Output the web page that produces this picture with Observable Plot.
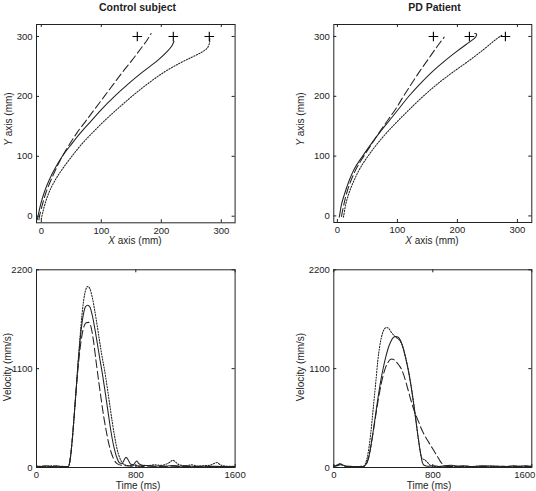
<!DOCTYPE html>
<html>
<head>
<meta charset="utf-8">
<script src="https://cdn.jsdelivr.net/npm/d3@7"></script>
<script src="https://cdn.jsdelivr.net/npm/@observablehq/plot@0.6"></script>
<style>
  body { margin: 0; background: #fff; }
  #fig { position: relative; width: 536px; height: 491px; overflow: hidden;
         font-family: "Liberation Sans", Arial, Helvetica, sans-serif; color: #1e1e1e; }
  .lbl { position: absolute; white-space: nowrap; font-size: 10px; transform: translate(-50%, -50%); }
  .lbl.v { transform: translate(-50%, -50%) rotate(-90deg); }
  .title { position: absolute; white-space: nowrap; font-size: 10.5px; font-weight: bold; transform: translate(-50%, -50%); }
</style>
</head>
<body>
<div id="fig"></div>
<script>
// ---- tick values ----
const posTicks = [0, 100, 200, 300];
const timeTicks = [0, 800, 1600];
const velTicks = [0, 1100, 2200];

// ---- target positions (mm) ----
const targetX = [160, 220, 280];
const targetY = [300, 300, 300];

// ---- hand paths, control subject: [x mm, y mm] ----
const ctrlPathNear = [[-4,-6],[-3,0],[2,20],[8,40],[16,60],[25,80],[35,100],[47,120],[60,140],[75,160],[90,180],[105,200],[120,220],[135,240],[151,260],[166,280],[177,295],[183,305]];
const ctrlPathMid = [[-7,-6],[-5.5,0],[-1,20],[5,40],[13,60],[23,80],[35,100],[50,120],[66,140],[84,160],[102,180],[122,200],[144,220],[168,240],[194,260],[210,275],[218,285],[221,292]];
const ctrlPathFar = [[0,-5],[1,0],[6,20],[13,40],[23,60],[36,80],[51,100],[67,120],[86,140],[106,160],[128,180],[151,200],[176,220],[204,240],[230,255],[250,265],[266,273],[276,280],[280,288],[281,296]];

// ---- hand paths, PD patient: [x mm, y mm] ----
const pdPathNear = [[7,-1],[7,0],[11,20],[16,40],[23,60],[32,80],[44,100],[57,120],[70,140],[84,160],[98,180],[110,200],[123,220],[136,240],[150,260],[164,280],[178,299]];
const pdPathMid = [[3,-2],[3.5,0],[7,20],[13,40],[20,60],[29,80],[42,100],[56,120],[71,140],[87,160],[103,180],[119,200],[137,220],[157,240],[180,260],[199,275],[215,287],[226,295],[231,300],[232,304],[229,305]];
const pdPathFar = [[10,-2],[10.5,0],[14,20],[20,40],[28,60],[38,80],[51,100],[66,120],[83,140],[102,160],[122,180],[143,200],[166,220],[192,240],[220,260],[246,280],[264,295],[274,302]];

// ---- tangential velocity, control subject: [time ms, mm/s] ----
const ctrlVelNear = [[0,15],[40,10],[80,18],[120,10],[160,15],[200,10],[240,12],[255,10],[265,40],[275,130],[290,340],[305,600],[320,870],[335,1110],[350,1310],[365,1460],[380,1560],[400,1610],[420,1615],[440,1560],[460,1400],[480,1180],[500,970],[520,770],[540,580],[560,420],[580,280],[600,175],[620,100],[640,55],[660,35],[690,25],[720,20],[760,15],[800,20],[850,12],[900,18],[1000,12],[1100,15],[1200,10],[1300,15],[1400,12],[1500,10],[1600,12]];
const ctrlVelMid = [[0,15],[40,12],[80,20],[120,10],[160,18],[200,12],[240,10],[255,10],[265,40],[275,130],[290,340],[305,600],[320,880],[335,1160],[350,1400],[365,1590],[380,1720],[395,1790],[413,1805],[430,1785],[450,1690],[470,1545],[490,1380],[510,1210],[530,1050],[550,870],[570,680],[590,490],[610,320],[630,190],[650,100],[670,50],[690,45],[705,80],[722,115],[740,80],[760,35],[780,30],[795,55],[808,72],[822,45],[850,25],[900,20],[950,15],[1000,20],[1050,15],[1100,22],[1150,15],[1200,18],[1300,12],[1400,15],[1500,10],[1600,12]];
const ctrlVelFar = [[0,12],[40,15],[80,10],[120,18],[160,12],[200,15],[240,10],[255,10],[265,40],[275,130],[290,340],[305,600],[320,880],[335,1170],[350,1440],[365,1680],[380,1860],[395,1970],[413,2015],[430,1990],[450,1890],[470,1740],[490,1570],[510,1390],[530,1220],[550,1070],[570,890],[590,700],[610,510],[630,340],[650,200],[670,110],[690,55],[710,30],[740,20],[780,25],[820,15],[860,25],[900,20],[950,30],[1000,25],[1040,35],[1070,55],[1100,80],[1120,60],[1150,30],[1200,20],[1250,30],[1300,15],[1350,20],[1400,25],[1430,45],[1455,55],[1480,30],[1530,15],[1600,12]];

// ---- tangential velocity, PD patient: [time ms, mm/s] ----
const pdVelNear = [[0,15],[30,20],[52,30],[75,20],[100,12],[150,10],[200,12],[240,12],[255,25],[270,60],[285,130],[300,240],[320,410],[340,590],[360,760],[380,910],[400,1030],[420,1120],[440,1175],[455,1200],[469,1208],[485,1200],[505,1175],[525,1140],[545,1100],[565,1030],[585,940],[605,840],[625,740],[645,650],[665,575],[685,510],[705,440],[725,380],[745,330],[765,285],[785,240],[805,195],[825,150],[845,105],[865,60],[885,30],[905,15],[950,10],[1000,15],[1100,12],[1200,10],[1300,15],[1400,12],[1500,10],[1600,12]];
const pdVelMid = [[0,15],[30,25],[52,40],[75,25],[100,15],[150,12],[200,10],[240,12],[255,25],[270,60],[285,130],[300,240],[320,420],[340,610],[360,800],[380,970],[400,1110],[420,1230],[440,1330],[460,1400],[480,1445],[500,1458],[520,1450],[540,1410],[560,1330],[580,1220],[600,1095],[620,940],[640,760],[660,560],[680,350],[700,170],[715,60],[730,25],[760,15],[800,20],[850,12],[900,18],[950,25],[1000,15],[1050,20],[1100,12],[1200,18],[1300,15],[1400,12],[1450,20],[1500,15],[1550,18],[1600,12]];
const pdVelFar = [[0,15],[30,30],[52,45],[75,25],[100,15],[150,10],[200,12],[240,15],[255,40],[270,110],[285,230],[300,400],[320,680],[340,960],[355,1180],[370,1340],[385,1450],[400,1520],[415,1550],[428,1558],[445,1545],[465,1505],[485,1470],[505,1445],[525,1425],[545,1385],[565,1310],[585,1200],[605,1070],[625,910],[645,720],[665,510],[685,300],[700,160],[715,100],[735,85],[755,60],[775,30],[800,15],[850,10],[900,15],[1000,12],[1100,10],[1200,15],[1300,12],[1400,10],[1500,15],[1600,12]];

// ---- drawing ----
const ink = "#222";
const DASH = "8,3.5";
const DOT = "1.3,1.5";
const fig = document.getElementById("fig");
const targets = targetX.map((x, i) => ({x, y: targetY[i]}));
const fmt = d3.format("d");

function panel({left, top, width, height, margin, xDomain, yDomain, xTicks, yTicks, series, showTargets, curve, lastXLabelShift = 0}) {
  const [mt, mr, mb, ml] = margin;
  const iw = width - ml - mr;
  const ih = height - mt - mb;
  const marks = [];
  for (const s of series) {
    marks.push(Plot.line(s.data, {
      x: d => d[0], y: d => d[1], curve, clip: true,
      stroke: ink, strokeWidth: 1.05, strokeDasharray: s.dash
    }));
  }
  if (showTargets) {
    marks.push(Plot.dot(targets, {x: "x", y: "y", symbol: "plus", r: 3.2, stroke: "#000", strokeWidth: 1.1}));
  }
  marks.push(Plot.frame({stroke: ink, strokeWidth: 1}));
  // inward ticks on all four sides
  marks.push(Plot.tickX(xTicks, {x: d => d, insetTop: ih - 3, stroke: ink}));
  marks.push(Plot.tickX(xTicks, {x: d => d, insetBottom: ih - 3, stroke: ink}));
  marks.push(Plot.tickY(yTicks, {y: d => d, insetRight: iw - 3, stroke: ink}));
  marks.push(Plot.tickY(yTicks, {y: d => d, insetLeft: iw - 3, stroke: ink}));
  if (lastXLabelShift) {
    marks.push(Plot.axisX(xTicks.slice(0, -1), {tickSize: 0, tickPadding: 4, tickFormat: fmt, label: null}));
    marks.push(Plot.axisX(xTicks.slice(-1), {tickSize: 0, tickPadding: 4, tickFormat: fmt, label: null, dx: lastXLabelShift}));
  } else {
    marks.push(Plot.axisX(xTicks, {tickSize: 0, tickPadding: 4, tickFormat: fmt, label: null}));
  }
  marks.push(Plot.axisY(yTicks, {tickSize: 0, tickPadding: 4, tickFormat: fmt, label: null}));
  const svg = Plot.plot({
    width, height,
    marginTop: mt, marginRight: mr, marginBottom: mb, marginLeft: ml,
    x: {domain: xDomain},
    y: {domain: yDomain},
    style: {fontSize: "9.5px", fontFamily: "'Liberation Sans', Arial, sans-serif", color: ink, background: "transparent", overflow: "visible"},
    marks
  });
  svg.style.position = "absolute";
  svg.style.left = left + "px";
  svg.style.top = top + "px";
  fig.append(svg);
}

function label(html, x, y, vertical) {
  const el = document.createElement("div");
  el.className = vertical ? "lbl v" : "lbl";
  el.innerHTML = html;
  el.style.left = x + "px";
  el.style.top = y + "px";
  fig.append(el);
}
function title(text, x, y) {
  const el = document.createElement("div");
  el.className = "title";
  el.textContent = text;
  el.style.left = x + "px";
  el.style.top = y + "px";
  fig.append(el);
}

// top row: hand paths
panel({left: 0, top: 0, width: 268, height: 250, margin: [24, 33.4, 27.7, 36],
  xDomain: [-8, 323], yDomain: [-11, 320], xTicks: posTicks, yTicks: posTicks,
  showTargets: true, curve: "catmull-rom",
  series: [{data: ctrlPathMid, dash: null}, {data: ctrlPathNear, dash: DASH}, {data: ctrlPathFar, dash: DOT}]});
panel({left: 268, top: 0, width: 268, height: 250, margin: [24, 4.7, 28, 65.3],
  xDomain: [-6, 324], yDomain: [-11, 320], xTicks: posTicks, yTicks: posTicks,
  showTargets: true, curve: "catmull-rom",
  series: [{data: pdPathMid, dash: null}, {data: pdPathNear, dash: DASH}, {data: pdPathFar, dash: DOT}]});

// bottom row: velocity profiles
panel({left: 0, top: 250, width: 268, height: 241, margin: [19.3, 33.4, 24, 36],
  xDomain: [0, 1600], yDomain: [0, 2200], xTicks: timeTicks, yTicks: velTicks,
  showTargets: false, curve: "monotone-x",
  series: [{data: ctrlVelMid, dash: null}, {data: ctrlVelNear, dash: DASH}, {data: ctrlVelFar, dash: DOT}]});
panel({left: 268, top: 250, width: 268, height: 241, margin: [19.3, 4.7, 24, 65.3],
  xDomain: [0, 1600], yDomain: [0, 2200], xTicks: timeTicks, yTicks: velTicks,
  showTargets: false, curve: "monotone-x", lastXLabelShift: -7,
  series: [{data: pdVelMid, dash: null}, {data: pdVelNear, dash: DASH}, {data: pdVelFar, dash: DOT}]});

// titles and axis labels
title("Control subject", 137.5, 7);
title("PD Patient", 434.5, 7);
label("<i>X</i> axis (mm)", 135, 240);
label("<i>Y</i> axis (mm)", 7.5, 119, true);
label("<i>X</i> axis (mm)", 432, 240);
label("<i>Y</i> axis (mm)", 300, 119, true);
label("Time (ms)", 138, 485);
label("Velocity (mm/s)", 6.5, 367, true);
label("Time (ms)", 429, 485);
label("Velocity (mm/s)", 300, 367, true);
</script>
</body>
</html>
